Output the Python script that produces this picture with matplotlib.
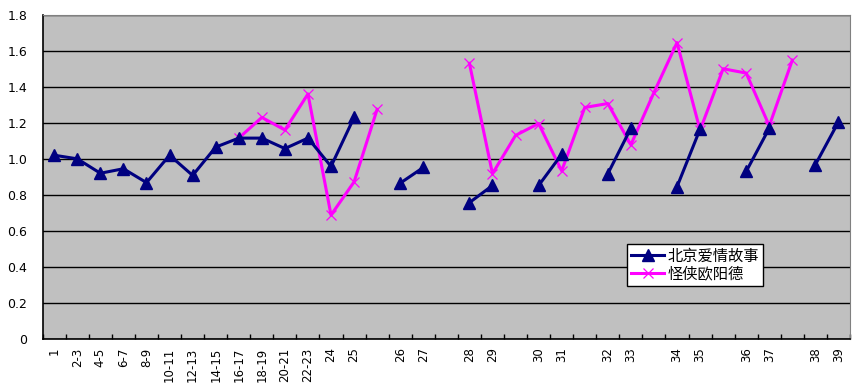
import numpy as np
import matplotlib.pyplot as plt

plt.rcParams['font.family'] = ['Noto Sans CJK SC', 'DejaVu Sans']

# categories (blank ones are gaps between episodes)
categories = ['1', '2-3', '4-5', '6-7', '8-9', '10-11', '12-13', '14-15',
              '16-17', '18-19', '20-21', '22-23', '24', '25', '', '26', '27',
              '', '28', '29', '', '30', '31', '', '32', '33', '', '34', '35',
              '', '36', '37', '', '38', '39']

nan = np.nan
beijing = [1.02, 1.00, 0.92, 0.945, 0.868, 1.02, 0.908, 1.065, 1.115, 1.115,
           1.057, 1.115, 0.958, 1.23, nan, 0.865, 0.952, nan, 0.757, 0.852,
           nan, 0.852, 1.025, nan, 0.917, 1.17, nan, 0.845, 1.165, nan,
           0.93, 1.17, nan, 0.968, 1.205]
guaixia = [nan, nan, nan, nan, nan, nan, nan, nan, 1.115, 1.23, 1.16, 1.36,
           0.688, 0.872, 1.275, nan, nan, nan, 1.53, 0.918, 1.13, 1.196,
           0.933, 1.285, 1.307, 1.078, 1.368, 1.645, 1.159, 1.50, 1.476,
           1.183, 1.548, nan, nan]

x = np.arange(len(categories))

fig = plt.figure(figsize=(8.58, 3.92), dpi=100)
ax = fig.add_axes([42.7 / 858, 1 - 339 / 392, (850 - 42.7) / 858, (339 - 14.7) / 392])
ax.set_facecolor('#c0c0c0')

ax.plot(x, beijing, color='#000080', lw=2.2, marker='^', ms=9,
        label='北京爱情故事', zorder=3)
ax.plot(x, guaixia, color='#ff00ff', lw=2.2, marker='x', ms=7, mew=0.9,
        label='怪侠欧阳德', zorder=2)

ax.set_xlim(-0.5, len(categories) - 0.5)
ax.set_ylim(0, 1.8)
yt = np.arange(0, 1.81, 0.2)
ax.set_yticks(yt)
ax.set_yticklabels(['0'] + ['%.1f' % v for v in yt[1:]], family='DejaVu Sans', fontsize=9)
ax.yaxis.grid(True, color='black', lw=1.0)
ax.set_axisbelow(True)
ax.tick_params(axis='y', length=0, pad=11)

ax.set_xticks(x)
ax.set_xticklabels(categories, rotation=90, family='DejaVu Sans', fontsize=8.5,
                   va='top')
ax.tick_params(axis='x', which='major', length=0, pad=6)
ax.set_xticks(np.arange(-0.5, len(categories)), minor=True)
ax.tick_params(axis='x', which='minor', direction='in', length=3.5, width=1)

for s in ['top', 'right']:
    ax.spines[s].set_color('#808080')
for s in ['bottom', 'left']:
    ax.spines[s].set_color('black')
    ax.spines[s].set_linewidth(1.2)

leg = ax.legend(loc='upper left', bbox_to_anchor=((627 - 42.7) / (850 - 42.7), (339 - 244) / (339 - 14.7)),
                fontsize=11, frameon=True, fancybox=False, edgecolor='black',
                framealpha=1, borderpad=0.25, handlelength=2.2, handletextpad=0.2,
                labelspacing=0.05, borderaxespad=0)
leg.get_frame().set_linewidth(1)

fig.savefig('out.png', dpi=100)
